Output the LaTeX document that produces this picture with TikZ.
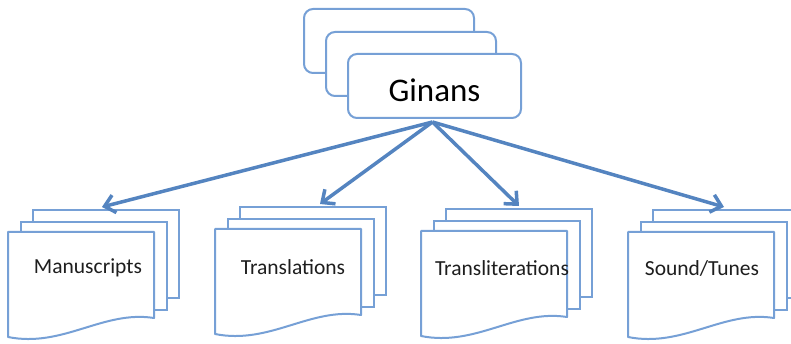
\documentclass[tikz,border=0pt]{standalone}
\usepackage{fontspec}
\setmainfont{Carlito}
\usetikzlibrary{arrows.meta,calc}

\definecolor{edgeblue}{RGB}{118,160,214}
\definecolor{arrowblue}{RGB}{84,132,192}
\definecolor{labelgray}{RGB}{30,30,30}

\tikzset{
  card/.style={draw=edgeblue, line width=2pt, fill=white, rounded corners=9pt,
    minimum width=172pt, minimum height=64pt, inner sep=0pt, anchor=north west},
  sheet/.style={draw=edgeblue, line width=2pt, fill=white,
    minimum width=146pt, minimum height=88pt, inner sep=0pt, anchor=north west},
  frontsheet/.style={draw=edgeblue, line width=2pt, fill=white, line join=round},
  doclabel/.style={font=\fontsize{21.5}{24}\selectfont, text=labelgray, inner sep=0pt},
  link/.style={draw=arrowblue, line width=3.5pt,
    -{Straight Barb[length=10pt,width=18pt,line width=3.5pt]}}
}

% a stack of three sheets; #2,#3 = top left corner of the front sheet
\newcommand\docstack[5]{%
  \node[sheet] (#1-back) at (#2+24,#3-23) {};
  \node[sheet] (#1-mid) at (#2+12,#3-11) {};
  \path[frontsheet] (#2,#3) -- (#2+146,#3) -- (#2+146,#3+86)
     .. controls (#2+95,#3+78) and (#2+55,#3+116) .. (#2,#3+105) -- cycle;
  \node[doclabel] (#1) at (#2+#4,#3+#5) {#1};
}

\begin{document}
\begin{tikzpicture}[x=1pt,y=-1pt]
  \useasboundingbox (0,0) rectangle (791,344);

  % stacked cards at the top
  \node[card, minimum width=170pt] (card-a) at (303,8) {};
  \node[card, minimum width=170pt] (card-b) at (325,31) {};
  \node[card, minimum width=173pt] (ginans) at (347,53) {};
  \node[font=\fontsize{33}{36}\selectfont, inner sep=0pt] (ginans-text)
    at ($(ginans.center)+(0,4)$) {Ginans};

  % document stacks
  \docstack{Manuscripts}{8}{232}{80}{36}
  \docstack{Translations}{215}{229}{78}{38}
  \docstack{Transliterations}{421}{231}{81}{37}
  \docstack{Sound/Tunes}{628}{232}{74}{36}

  % links from the card to each stack
  \coordinate (hub) at ($(ginans.south)+(-2,3)$);
  \draw[link] (hub) -- ($(Manuscripts-back.north)+(-4,-2)$);
  \draw[link] (hub) -- ($(Translations-back.north)+(7,-2)$);
  \draw[link] (hub) -- ($(Transliterations-back.north)+(0,-2)$);
  \draw[link] (hub) -- ($(Sound/Tunes-back.north)+(-2,-2)$);
\end{tikzpicture}
\end{document}
